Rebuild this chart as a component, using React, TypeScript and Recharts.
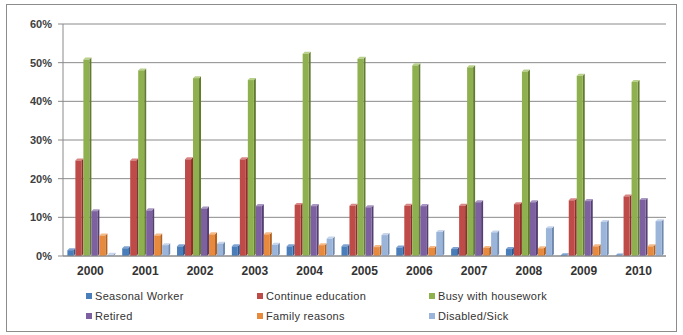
import React from 'react'
import { BarChart, Bar, XAxis, YAxis, CartesianGrid } from 'recharts'

const years = ['2000', '2001', '2002', '2003', '2004', '2005', '2006', '2007', '2008', '2009', '2010']

const seasonalWorker = [1.5, 2.0, 2.5, 2.5, 2.5, 2.5, 2.2, 1.8, 1.8, 0.2, 0.1]
const continueEducation = [24.7, 24.7, 25.0, 25.0, 13.2, 13.0, 13.0, 13.0, 13.4, 14.4, 15.4]
const busyWithHousework = [50.8, 48.0, 46.0, 45.5, 52.3, 51.0, 49.3, 48.8, 47.7, 46.6, 45.0]
const retired = [11.6, 11.8, 12.3, 12.9, 12.9, 12.6, 12.9, 13.9, 13.9, 14.2, 14.5]
const familyReasons = [5.3, 5.3, 5.6, 5.6, 2.8, 2.3, 2.1, 2.1, 2.0, 2.5, 2.5]
const disabledSick = [0.3, 2.8, 3.2, 2.9, 4.5, 5.4, 6.2, 6.1, 7.2, 8.8, 9.0]

const yTicks = [0, 10, 20, 30, 40, 50, 60]

const series = [
  { key: 'seasonal', name: 'Seasonal Worker', color: '#4a7ebb', side: '#2f5a8f', top: '#7ea3d3' },
  { key: 'education', name: 'Continue education', color: '#be4b48', side: '#8c302e', top: '#d98583' },
  { key: 'housework', name: 'Busy with housework', color: '#8fb04e', side: '#627a31', top: '#b7d08a' },
  { key: 'retired', name: 'Retired', color: '#7d60a0', side: '#543f72', top: '#a996c2' },
  { key: 'family', name: 'Family reasons', color: '#e88a3e', side: '#b0601f', top: '#f5b985' },
  { key: 'disabled', name: 'Disabled/Sick', color: '#9ab4da', side: '#6f88ad', top: '#c6d5ec' },
]

const data = years.map((year, i) => ({
  year,
  seasonal: seasonalWorker[i],
  education: continueEducation[i],
  housework: busyWithHousework[i],
  retired: retired[i],
  family: familyReasons[i],
  disabled: disabledSick[i],
}))

const DEPTH_X = 2
const DEPTH_Y = 2

function bar3d(color: string, side: string, top: string) {
  return (props: any) => {
    const { x, y, width, height } = props
    if (!height || height <= 0) return <g />
    const fw = width - DEPTH_X
    const bottom = y + height
    return (
      <g>
        <polygon
          points={`${x + fw},${y} ${x + width},${y - DEPTH_Y} ${x + width},${bottom - DEPTH_Y} ${x + fw},${bottom}`}
          fill={side}
        />
        <polygon
          points={`${x},${y} ${x + DEPTH_X},${y - DEPTH_Y} ${x + width},${y - DEPTH_Y} ${x + fw},${y}`}
          fill={top}
        />
        <rect x={x} y={y} width={fw} height={height} fill={color} />
      </g>
    )
  }
}

function LegendBox() {
  const cols = [86, 257, 429]
  return (
    <div style={{ position: 'absolute', left: 0, top: 290, width: 683, height: 40 }}>
      {series.map((s, i) => (
        <div
          key={s.key}
          style={{
            position: 'absolute',
            left: cols[i % 3],
            top: i < 3 ? 0 : 20,
            display: 'flex',
            alignItems: 'center',
            fontFamily: 'Liberation Sans, Arial, sans-serif',
            fontSize: 11,
            letterSpacing: 0.3,
            color: '#333',
            whiteSpace: 'nowrap',
          }}
        >
          <span style={{ display: 'inline-block', width: 6, height: 6, background: s.color, marginRight: 3 }} />
          {s.name}
        </div>
      ))}
    </div>
  )
}

export default function App() {
  return (
    <div style={{ position: 'absolute', left: 0, top: 0, width: 683, height: 335, background: '#fff' }}>
      <div
        style={{
          position: 'absolute',
          left: 6,
          top: 4,
          width: 669,
          height: 326,
          border: '1px solid #8c8c8c',
        }}
      />
      <BarChart
        width={683}
        height={335}
        data={data}
        margin={{ top: 24, right: 17, left: 8, bottom: 49 }}
        barCategoryGap="8%"
        barGap={0}
      >
        <CartesianGrid vertical={false} stroke="#8a8a8a" />
        <XAxis
          dataKey="year"
          tickLine={false}
          tickSize={0}
          tickMargin={10}
          stroke="#8a8a8a"
          height={30}
          tick={{ fontSize: 12, fontWeight: 'bold', fill: '#333', fontFamily: 'Liberation Sans, Arial, sans-serif' }}
        />
        <YAxis
          domain={[0, 60]}
          ticks={yTicks}
          width={55}
          stroke="#8a8a8a"
          tickSize={5}
          tickMargin={6}
          tickFormatter={(v: number) => `${v}%`}
          tick={{ fontSize: 11, fontWeight: 'bold', fill: '#404040', fontFamily: 'Liberation Sans, Arial, sans-serif' }}
        />
        {series.map(s => (
          <Bar
            key={s.key}
            dataKey={s.key}
            name={s.name}
            fill={s.color}
            shape={bar3d(s.color, s.side, s.top)}
            isAnimationActive={false}
          />
        ))}
      </BarChart>
      <LegendBox />
    </div>
  )
}
